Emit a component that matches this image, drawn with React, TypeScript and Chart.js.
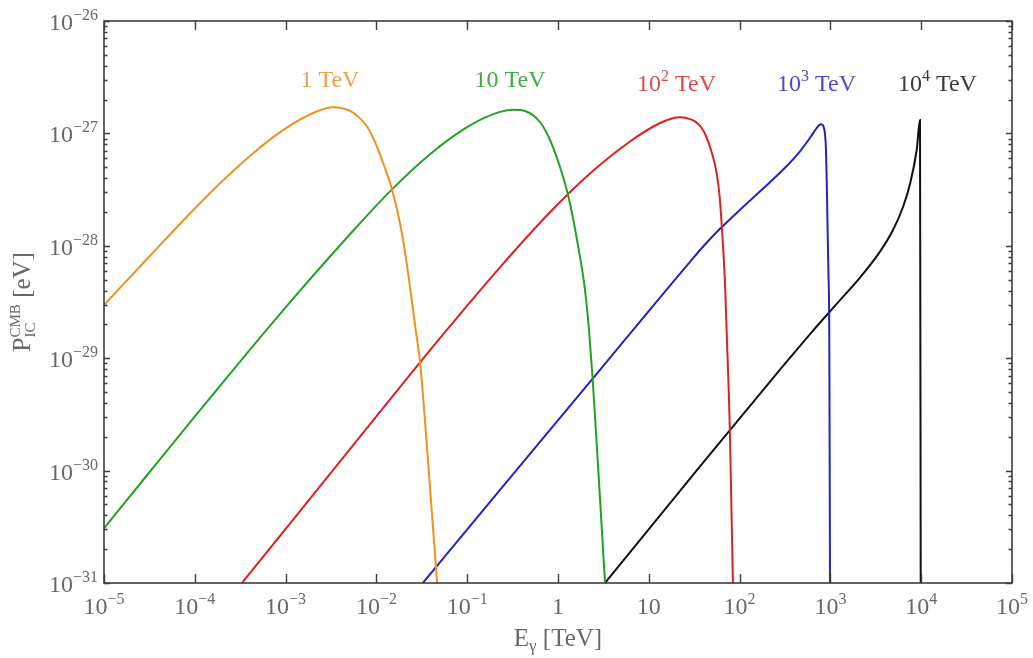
import React, { useEffect, useRef } from 'react';
import { Chart, registerables } from 'chart.js';

Chart.register(...registerables);

// ---------------- data ----------------
const X_MIN = 1e-5;
const X_MAX = 1e5;
const Y_MIN = 1e-31;
const Y_MAX = 1e-26;

const xTickValues = [1e-5, 1e-4, 1e-3, 1e-2, 1e-1, 1, 10, 1e2, 1e3, 1e4, 1e5];
const xTickBases = ['10', '10', '10', '10', '10', '1', '10', '10', '10', '10', '10'];
const xTickExps = ['−5', '−4', '−3', '−2', '−1', '', '', '2', '3', '4', '5'];

const yTickValues = [1e-31, 1e-30, 1e-29, 1e-28, 1e-27, 1e-26];
const yTickBases = ['10', '10', '10', '10', '10', '10'];
const yTickExps = ['−31', '−30', '−29', '−28', '−27', '−26'];

// Electron energy 1 TeV
const curve1TeV: [number, number][] = [
  [1e-5, 2.974e-29], [3.212e-5, 8.147e-29], [7.467e-5, 1.679e-28], [1.742e-4, 3.37e-28],
  [4.054e-4, 6.307e-28], [9.434e-4, 1.074e-27], [2.2e-3, 1.566e-27], [3.352e-3, 1.708e-27],
  [4.18e-3, 1.672e-27], [5.121e-3, 1.583e-27], [6.273e-3, 1.414e-27], [7.818e-3, 1.164e-27],
  [9.652e-3, 8.385e-28], [1.191e-2, 5.42e-28], [1.474e-2, 3.248e-28], [1.819e-2, 1.585e-28],
  [2.157e-2, 6.988e-29], [2.709e-2, 1.782e-29], [3.021e-2, 9.309e-30], [3.72e-2, 1.161e-30],
  [4.662e-2, 1e-31],
];

// Electron energy 10 TeV
const curve10TeV: [number, number][] = [
  [1e-5, 3.067e-31], [3.212e-5, 9.817e-31], [1.141e-4, 3.447e-30], [4.054e-4, 1.19e-29],
  [1.441e-3, 3.986e-29], [5.121e-3, 1.268e-28], [1.412e-2, 3.048e-28], [3.893e-2, 6.53e-28],
  [0.1073, 1.178e-27], [0.2298, 1.554e-27], [0.3276, 1.622e-27], [0.4331, 1.583e-27],
  [0.6337, 1.263e-27], [0.8164, 8.737e-28], [1.052, 5.024e-28], [1.298, 2.774e-28],
  [1.607, 1.173e-28], [1.984, 4.045e-29], [2.194, 1.782e-29], [2.399, 6.845e-30],
  [2.751, 1.161e-30], [3.293, 1e-31],
];

// Electron energy 100 TeV
const curve100TeV: [number, number][] = [
  [3.31e-4, 1e-31], [1.441e-3, 4.362e-31], [1.095e-2, 3.329e-30], [5.016e-2, 1.509e-29],
  [0.2298, 6.436e-29], [0.8164, 1.986e-28], [2.251, 4.397e-28], [6.209, 8.471e-28],
  [13.28, 1.237e-27], [18.01, 1.357e-27], [22.06, 1.391e-27], [27.02, 1.357e-27],
  [32.28, 1.281e-27], [37.58, 1.14e-27], [42.66, 9.482e-28], [48.42, 7.118e-28],
  [55.96, 4.416e-28], [60.06, 2.831e-28], [63.53, 1.531e-28], [69.06, 4.639e-29],
  [71.92, 1.782e-29], [78.0, 2.378e-30], [84.4, 1e-31],
];

// Electron energy 1000 TeV
const curve1000TeV: [number, number][] = [
  [3.251e-2, 1e-31], [0.2298, 6.748e-31], [2.901, 7.884e-30], [28.43, 7.207e-29],
  [41.58, 1.027e-28], [60.83, 1.416e-28], [101.0, 2.09e-28], [190.4, 3.349e-28],
  [316.2, 4.943e-28], [462.8, 6.93e-28], [596.2, 9.14e-28], [693.9, 1.094e-27],
  [748.9, 1.181e-27], [797.9, 1.207e-27], [839.5, 1.152e-27], [871.9, 9.879e-28],
  [894.3, 7.118e-28], [913.0, 3.475e-28], [948.2, 6.517e-29], [972.5, 1.452e-29],
  [989.9, 1e-31],
];

// Electron energy 10000 TeV
const curve10000TeV: [number, number][] = [
  [3.293, 1e-31], [36.64, 1.09e-30], [278.5, 7.917e-30], [627.3, 1.718e-29],
  [1276, 3.281e-29], [2118, 5.213e-29], [3518, 8.879e-29], [4891, 1.382e-28],
  [6304, 2.214e-28], [7527, 3.547e-28], [8920, 7.118e-28], [9701, 1.316e-27],
  [9874, 1e-31],
];

const seriesData = [curve1TeV, curve10TeV, curve100TeV, curve1000TeV, curve10000TeV];
const seriesNames = ['1 TeV', '10 TeV', '10^2 TeV', '10^3 TeV', '10^4 TeV'];
const seriesColors = ['#f0901e', '#22a222', '#e01f1f', '#2222c8', '#111111'];

// curve labels (data coordinates: centre x, baseline y)
const labelBases = ['1', '10', '10', '10', '10'];
const labelExps = ['', '', '2', '3', '4'];
const labelX = [3.08e-3, 0.296, 20.2, 703, 1.51e4];
const labelY = [2.59e-27, 2.59e-27, 2.38e-27, 2.38e-27, 2.38e-27];
const labelColors = ['#eba24e', '#3fae3f', '#e24a4a', '#4a4ad2', '#3a3a3a'];

// ---------------- drawing helpers ----------------
const FONT = '"Liberation Serif", "DejaVu Serif", serif';

type Seg = { text: string; size: number; dy: number; stack?: boolean };

function layoutSegs(ctx: CanvasRenderingContext2D, segs: Seg[]) {
  const pos: number[] = [];
  let cx = 0;
  let prevStart = 0;
  let prevW = 0;
  segs.forEach((s) => {
    ctx.font = `${s.size}px ${FONT}`;
    const w = ctx.measureText(s.text).width;
    if (s.stack) {
      pos.push(prevStart);
      cx = prevStart + Math.max(prevW, w);
      prevW = Math.max(prevW, w);
    } else {
      pos.push(cx);
      prevStart = cx;
      prevW = w;
      cx += w;
    }
  });
  return { pos, total: cx };
}

function drawRich(
  ctx: CanvasRenderingContext2D,
  segs: Seg[],
  x: number,
  y: number,
  align: 'left' | 'center' | 'right',
  color: string
) {
  const { pos, total } = layoutSegs(ctx, segs);
  const start = align === 'center' ? x - total / 2 : align === 'right' ? x - total : x;
  ctx.save();
  ctx.fillStyle = color;
  ctx.textAlign = 'left';
  ctx.textBaseline = 'alphabetic';
  segs.forEach((s, i) => {
    ctx.font = `${s.size}px ${FONT}`;
    ctx.fillText(s.text, start + pos[i], y + s.dy);
  });
  ctx.restore();
}

const BASE = 24;
const SUP = 16;
const RISE = -10;
const AXIS_COLOR = '#3c3c3c';
const TEXT_COLOR = '#686868';

const framePlugin = {
  id: 'framePlugin',
  afterDraw(chart: any) {
    const ctx: CanvasRenderingContext2D = chart.ctx;
    const xs = chart.scales.x;
    const ys = chart.scales.y;
    const a = chart.chartArea;
    ctx.save();
    ctx.strokeStyle = AXIS_COLOR;
    ctx.lineWidth = 1.6;
    ctx.strokeRect(a.left, a.top, a.right - a.left, a.bottom - a.top);

    // x ticks (major only), top & bottom, inward
    ctx.lineWidth = 1.4;
    ctx.beginPath();
    xTickValues.forEach((v) => {
      const px = Math.round(xs.getPixelForValue(v)) + 0.5;
      ctx.moveTo(px, a.bottom);
      ctx.lineTo(px, a.bottom - 9);
      ctx.moveTo(px, a.top);
      ctx.lineTo(px, a.top + 9);
    });
    // y ticks major + minor, left & right
    yTickValues.forEach((dec) => {
      for (let k = 1; k <= 9; k++) {
        const v = k * dec;
        if (v > Y_MAX * 1.0001) break;
        const py = Math.round(ys.getPixelForValue(v)) + 0.5;
        const len = k === 1 ? 6 : 3.5;
        ctx.moveTo(a.left, py);
        ctx.lineTo(a.left + len, py);
        ctx.moveTo(a.right, py);
        ctx.lineTo(a.right - len, py);
      }
    });
    ctx.stroke();
    ctx.restore();

    // x tick labels
    xTickValues.forEach((v, i) => {
      const px = xs.getPixelForValue(v);
      const segs: Seg[] = [{ text: xTickBases[i], size: BASE, dy: 0 }];
      if (xTickExps[i]) segs.push({ text: xTickExps[i], size: SUP, dy: RISE });
      drawRich(ctx, segs, px, a.bottom + 31, 'center', TEXT_COLOR);
    });
    // y tick labels
    yTickValues.forEach((v, i) => {
      const py = ys.getPixelForValue(v);
      const segs: Seg[] = [
        { text: yTickBases[i], size: BASE, dy: 0 },
        { text: yTickExps[i], size: SUP, dy: RISE },
      ];
      drawRich(ctx, segs, a.left - 6, py + 9, 'right', TEXT_COLOR);
    });

    // x axis title
    drawRich(
      ctx,
      [
        { text: 'E', size: 25, dy: 0 },
        { text: 'γ', size: 17, dy: 5 },
        { text: ' [TeV]', size: 25, dy: 0 },
      ],
      (a.left + a.right) / 2,
      646,
      'center',
      TEXT_COLOR
    );

    // y axis title (rotated)
    ctx.save();
    ctx.translate(30, (a.top + a.bottom) / 2);
    ctx.rotate(-Math.PI / 2);
    drawRich(
      ctx,
      [
        { text: 'P', size: 26, dy: 0 },
        { text: 'CMB', size: 15, dy: -10 },
        { text: 'IC', size: 15, dy: 5, stack: true },
        { text: ' [eV]', size: 25, dy: 0 },
      ],
      0,
      0,
      'center',
      TEXT_COLOR
    );
    ctx.restore();

    // curve labels
    labelBases.forEach((b, i) => {
      const px = xs.getPixelForValue(labelX[i]);
      const py = ys.getPixelForValue(labelY[i]);
      const segs: Seg[] = [{ text: b, size: BASE, dy: 0 }];
      if (labelExps[i]) segs.push({ text: labelExps[i], size: SUP, dy: RISE });
      segs.push({ text: ' TeV', size: BASE, dy: 0 });
      drawRich(ctx, segs, px, py, 'center', labelColors[i]);
    });
  },
};

export default function App() {
  const canvasRef = useRef<HTMLCanvasElement | null>(null);

  useEffect(() => {
    if (!canvasRef.current) return;
    const chart = new Chart(canvasRef.current, {
      type: 'scatter',
      data: {
        datasets: seriesData.map((d, i) => ({
          label: seriesNames[i],
          data: d.map(([x, y]) => ({ x, y })),
          showLine: true,
          borderColor: seriesColors[i],
          backgroundColor: seriesColors[i],
          borderWidth: 2,
          pointRadius: 0,
          pointHoverRadius: 0,
          cubicInterpolationMode: 'monotone' as const,
          fill: false,
        })),
      },
      options: {
        animation: false,
        responsive: false,
        devicePixelRatio: 1,
        layout: { padding: { left: 104, right: 21, top: 21, bottom: 75 } },
        plugins: {
          legend: { display: false },
          tooltip: { enabled: false },
        },
        events: [],
        scales: {
          x: {
            type: 'logarithmic',
            min: X_MIN,
            max: X_MAX,
            display: false,
          },
          y: {
            type: 'logarithmic',
            min: Y_MIN,
            max: Y_MAX,
            display: false,
          },
        },
      },
      plugins: [framePlugin],
    });
    return () => chart.destroy();
  }, []);

  return (
    <div style={{ position: 'fixed', left: 0, top: 0, width: 1033, height: 658, background: '#fff' }}>
      <canvas ref={canvasRef} width={1033} height={658} style={{ display: 'block' }} />
    </div>
  );
}
